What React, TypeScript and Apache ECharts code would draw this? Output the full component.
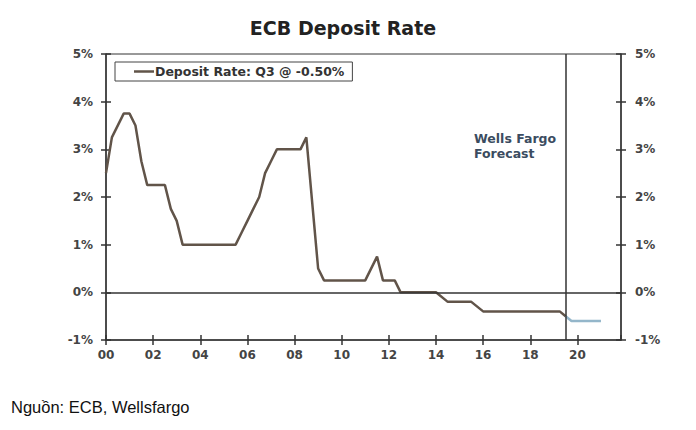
import React, { useEffect, useRef } from "react";
import * as echarts from "echarts";

const titleText = "ECB Deposit Rate";
const sourceText = "Nguồn: ECB, Wellsfargo";
const legendLabel = "Deposit Rate: Q3 @ -0.50%";
const forecastLabel = "Wells Fargo\nForecast";

const years = [2000, 2000.25, 2000.75, 2001, 2001.25, 2001.5, 2001.75, 2002.5, 2002.75, 2003, 2003.25, 2005.5, 2005.75, 2006, 2006.25, 2006.5, 2006.75, 2007, 2007.25, 2008.25, 2008.5, 2009, 2009.25, 2011, 2011.5, 2011.75, 2012.25, 2012.5, 2014, 2014.5, 2015.5, 2016, 2019.25, 2019.5];
const depositRate = [2.5, 3.25, 3.75, 3.75, 3.5, 2.75, 2.25, 2.25, 1.75, 1.5, 1.0, 1.0, 1.25, 1.5, 1.75, 2.0, 2.5, 2.75, 3.0, 3.0, 3.25, 0.5, 0.25, 0.25, 0.75, 0.25, 0.25, 0, 0, -0.2, -0.2, -0.4, -0.4, -0.5];

const forecastYears = [2019.5, 2019.75, 2021];
const forecastRate = [-0.5, -0.6, -0.6];

const forecastStart = 2019.5;
const xMin = 2000;
const xMax = 2021.85;
const yMin = -1;
const yMax = 5;

export default function App() {
  const ref = useRef<HTMLDivElement>(null);
  useEffect(() => {
    if (!ref.current) return;
    const chart = echarts.init(ref.current, undefined, { renderer: "svg" });
    const axisColor = "#333";
    const labelStyle = { color: "#444", fontFamily: "DejaVu Sans", fontSize: 12, fontWeight: "bold" as const };
    const tickStyle = { color: axisColor, width: 1.5 };
    const yBase = {
      type: "value" as const,
      min: yMin,
      max: yMax,
      interval: 1,
      splitLine: { show: false },
      axisLine: { show: true, onZero: false, lineStyle: { color: axisColor, width: 1.5 } },
    };
    const xBase = {
      type: "value" as const,
      min: xMin,
      max: xMax,
      interval: 2,
      splitLine: { show: false },
      axisLine: { show: true, onZero: false, lineStyle: { color: axisColor, width: 1.5 } },
    };
    chart.setOption({
      animation: false,
      backgroundColor: "#fff",
      title: {
        text: titleText,
        left: 338,
        textAlign: "center",
        top: 13,
        textStyle: { fontFamily: "DejaVu Sans", fontSize: 19, fontWeight: "bold", color: "#222" },
      },
      grid: {
        left: 106,
        right: 75,
        top: 54,
        bottom: 90,
        show: true,
        borderColor: axisColor,
        borderWidth: 1,
      },
      legend: {
        data: ["Deposit Rate"],
        left: 115,
        top: 62,
        padding: [3, 8, 3, 19],
        borderColor: "#444",
        borderWidth: 1,
        borderRadius: 0,
        icon: "rect",
        itemWidth: 20,
        itemHeight: 2.5,
        formatter: () => legendLabel,
        textStyle: { fontFamily: "DejaVu Sans", fontSize: 12.5, fontWeight: "bold", color: "#333", padding: [0, 0, 0, -4] },
      },
      xAxis: [
        {
          ...xBase,
          position: "bottom",
          axisTick: { show: true, inside: false, length: 5, lineStyle: tickStyle },
          axisLabel: {
            ...labelStyle,
            margin: 9,
            showMaxLabel: false,
            formatter: (v: number) => (v % 2 === 0 ? String(v % 100).padStart(2, "0") : ""),
          },
        },
        {
          ...xBase,
          position: "bottom",
          axisLine: { show: false, onZero: false },
          axisTick: { show: true, inside: true, length: 5, lineStyle: tickStyle },
          axisLabel: { show: false },
        },
      ],
      yAxis: [
        {
          ...yBase,
          position: "left",
          axisTick: { show: true, inside: false, length: 5, lineStyle: tickStyle },
          axisLabel: { ...labelStyle, margin: 13, formatter: (v: number) => `${v}%` },
        },
        {
          ...yBase,
          position: "right",
          axisTick: { show: true, inside: false, length: 5, lineStyle: tickStyle },
          axisLabel: { ...labelStyle, margin: 14, formatter: (v: number) => `${v}%` },
        },
        {
          ...yBase,
          position: "left",
          axisLine: { show: false, onZero: false },
          axisTick: { show: true, inside: true, length: 5, lineStyle: tickStyle },
          axisLabel: { show: false },
        },
        {
          ...yBase,
          position: "right",
          axisLine: { show: false, onZero: false },
          axisTick: { show: true, inside: true, length: 5, lineStyle: tickStyle },
          axisLabel: { show: false },
        },
      ],
      series: [
        {
          name: "Deposit Rate",
          type: "line",
          xAxisIndex: 0,
          yAxisIndex: 0,
          data: years.map((y, i) => [y, depositRate[i]]),
          showSymbol: false,
          symbol: "none",
          lineStyle: { color: "#615449", width: 2.5 },
          itemStyle: { color: "#615449" },
          z: 3,
          markLine: {
            silent: true,
            symbol: "none",
            label: { show: false },
            lineStyle: { color: axisColor, width: 1.5, type: "solid" },
            data: [{ yAxis: 0 }, { xAxis: forecastStart }],
          },
        },
        {
          name: "Forecast",
          type: "line",
          xAxisIndex: 0,
          yAxisIndex: 0,
          data: forecastYears.map((y, i) => [y, forecastRate[i]]),
          showSymbol: false,
          symbol: "none",
          lineStyle: { color: "#94b6ca", width: 2.5 },
          itemStyle: { color: "#94b6ca" },
          z: 3,
        },
      ],
      graphic: [
        {
          type: "text",
          left: 474,
          top: 131,
          style: {
            text: forecastLabel,
            fontFamily: "DejaVu Sans",
            fontSize: 12.5,
            fontWeight: "bold",
            lineHeight: 15,
            fill: "#3b4c60",
          },
        },
        {
          type: "text",
          left: 11,
          top: 398,
          style: {
            text: sourceText,
            fontFamily: "Liberation Sans",
            fontSize: 16.5,
            fill: "#111",
          },
        },
      ],
    });
    return () => chart.dispose();
  }, []);
  return (
    <div
      ref={ref}
      style={{ position: "fixed", left: 0, top: 0, width: 696, height: 430 }}
    />
  );
}
